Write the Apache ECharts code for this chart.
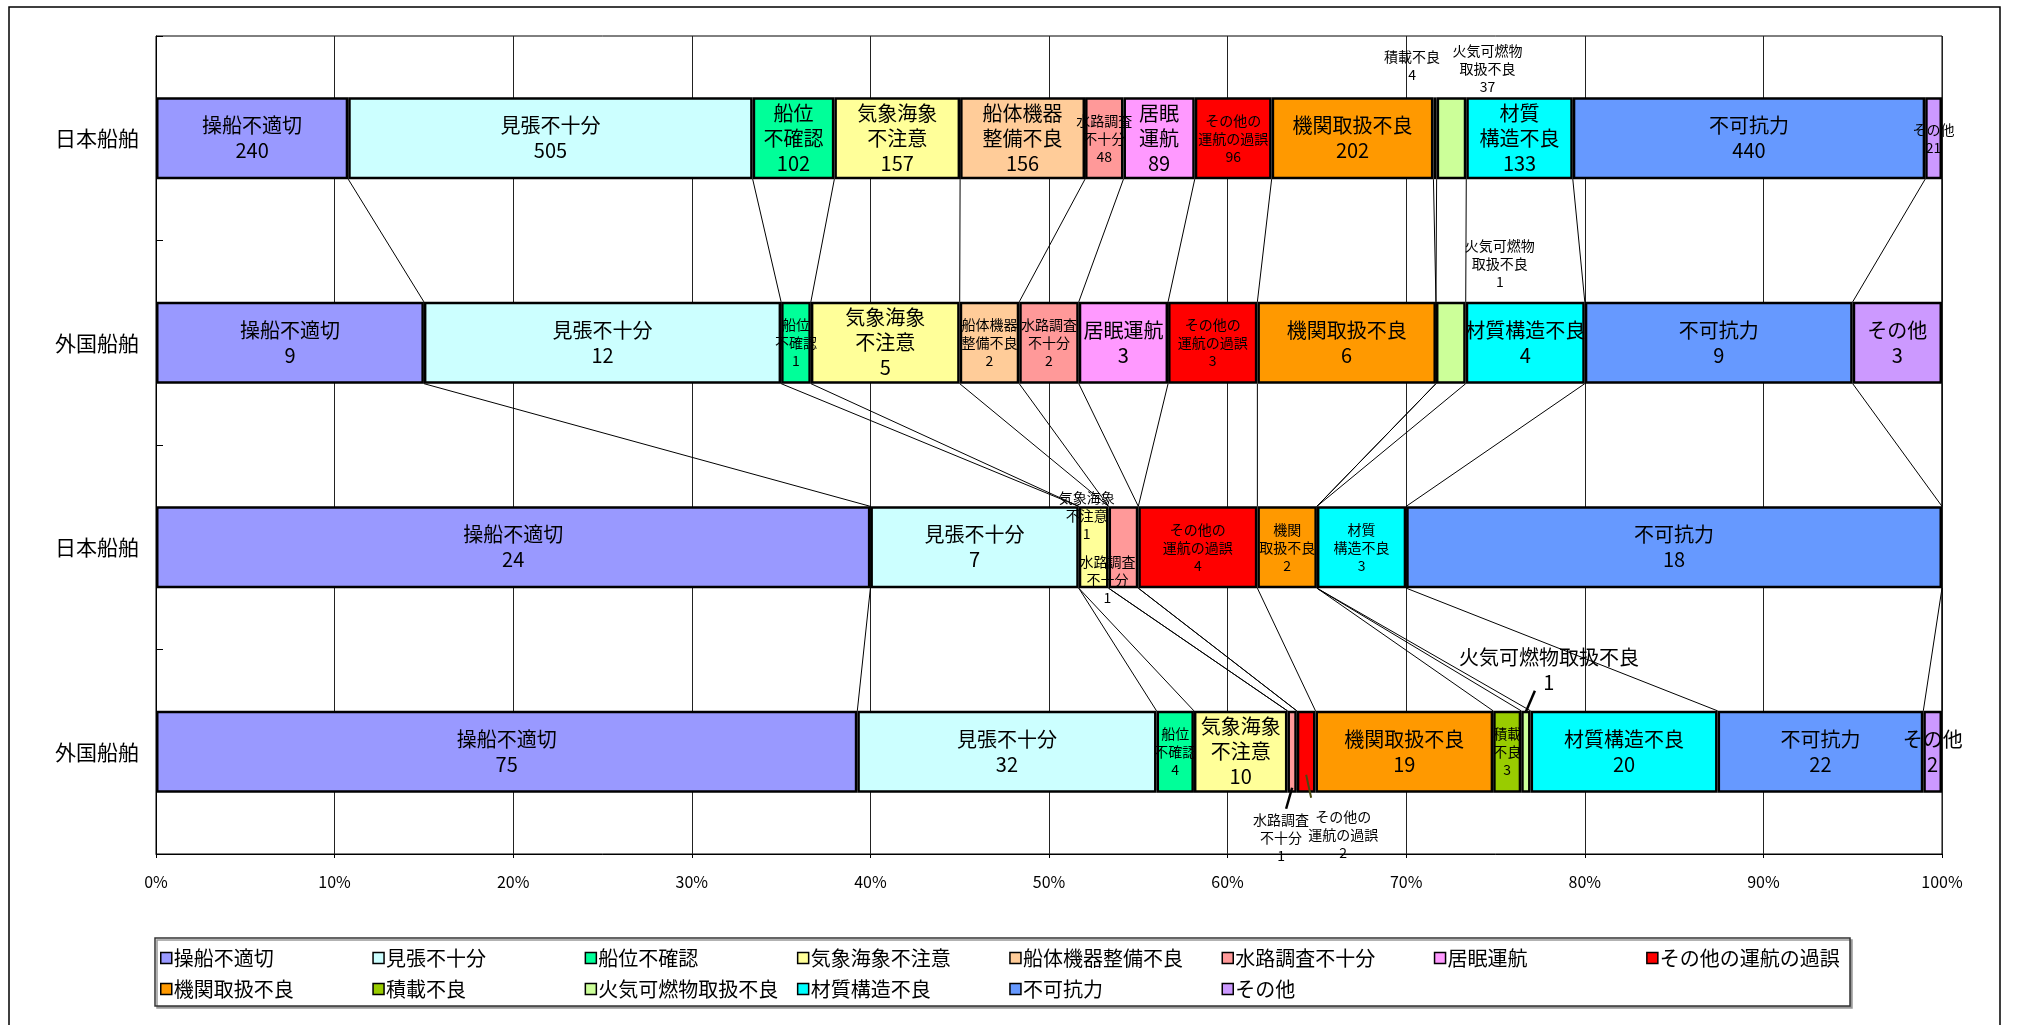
<!DOCTYPE html>
<html><head><meta charset="utf-8">
<script src="https://cdn.jsdelivr.net/npm/echarts@6/dist/echarts.min.js"></script>
<style>html,body{margin:0;padding:0;background:#fff}#c{width:2019px;height:1025px}</style>
</head><body><div id="c"></div>
<script>
// ---- data ----
const rowNames = ['日本船舶', '外国船舶', '日本船舶', '外国船舶'];
const causes = ['操船不適切','見張不十分','船位不確認','気象海象不注意','船体機器整備不良','水路調査不十分','居眠運航','その他の運航の過誤','機関取扱不良','積載不良','火気可燃物取扱不良','材質構造不良','不可抗力','その他'];
const rowA = [240, 505, 102, 157, 156, 48, 89, 96, 202, 4, 37, 133, 440, 21];
const rowB = [9, 12, 1, 5, 2, 2, 3, 3, 6, 0, 1, 4, 9, 3];
const rowC = [24, 7, 0, 1, 0, 1, 0, 4, 2, 0, 0, 3, 18, 0];
const rowD = [75, 32, 4, 10, 0, 1, 0, 2, 19, 3, 1, 20, 22, 2];
const tickLabels = ['0%','10%','20%','30%','40%','50%','60%','70%','80%','90%','100%'];

// ---- style ----
const colors = ['#9999FF','#CCFFFF','#00FF99','#FFFF99','#FFCC99','#FF9999','#FF99FF','#FF0000','#FF9900','#99CC00','#CCFF99','#00FFFF','#6699FF','#CC99FF'];
const FONT = "'Noto Sans CJK JP', 'Noto Sans', sans-serif";
const labelCfg = {
  '0-2':{t:'船位\n不確認'}, '0-3':{t:'気象海象\n不注意'}, '0-4':{t:'船体機器\n整備不良'},
  '0-5':{t:'水路調査\n不十分', fs:14}, '0-6':{t:'居眠\n運航'}, '0-7':{t:'その他の\n運航の過誤', fs:14},
  '0-9':{t:'積載不良', fs:14, o:[-23,-73]}, '0-10':{t:'火気可燃物\n取扱不良', fs:14, o:[36,-70]},
  '0-11':{t:'材質\n構造不良'}, '0-13':{fs:14},
  '1-2':{t:'船位\n不確認', fs:14}, '1-3':{t:'気象海象\n不注意'}, '1-4':{t:'船体機器\n整備不良', fs:14},
  '1-5':{t:'水路調査\n不十分', fs:14}, '1-7':{t:'その他の\n運航の過誤', fs:14},
  '1-10':{t:'火気可燃物\n取扱不良', fs:14, o:[49,-79]},
  '2-3':{t:'気象海象\n不注意', fs:14, o:[-7,-32]}, '2-5':{t:'水路調査\n不十分', fs:14, o:[-16,32]},
  '2-7':{t:'その他の\n運航の過誤', fs:14}, '2-8':{t:'機関\n取扱不良', fs:14}, '2-11':{t:'材質\n構造不良', fs:14},
  '3-2':{t:'船位\n不確認', fs:14}, '3-3':{t:'気象海象\n不注意'},
  '3-5':{t:'水路調査\n不十分', fs:14, o:[-11,86]}, '3-7':{t:'その他の\n運航の過誤', fs:14, o:[37,83]},
  '3-9':{t:'積載\n不良', fs:14}, '3-10':{fs:20, o:[23,-82]}
};
// leader lines: offsets relative to segment centre (pixels)
const leaderCfg = [
  {r:3, s:5, dy0:36, dx1:-6, dy1:57, w:2.5, c:'#000'},
  {r:3, s:7, dy0:23, dx1:5, dy1:46, w:2, c:'#4a4a10'},
  {r:3, s:10, dy0:-40, dx1:9, dy1:-61, w:2.5, c:'#000'}
];
const BAR_RATIO = 0.4;

// ---- derived ----
const rowData = [rowA, rowB, rowC, rowD];
const totals = rowData.map(r => r.reduce((a, b) => a + b, 0));
const cum = rowData.map((r, ri) => { let acc = 0; return r.map(v => { acc += v; return acc / totals[ri] * 100; }); });

const barSeries = causes.map((name, s) => ({
  name, type: 'bar', stack: 'total', barWidth: (BAR_RATIO * 100) + '%', z: 2,
  itemStyle: { color: colors[s], borderColor: '#000', borderWidth: 2.5 },
  emphasis: { disabled: true },
  data: rowData.map((r, ri) => {
    const v = r[s];
    if (!v) return { value: null };
    const c = labelCfg[ri + '-' + s] || {};
    const fs = c.fs || 20;
    return {
      value: v / totals[ri] * 100,
      label: { show: true, position: 'inside', formatter: (c.t || name) + '\n' + v,
        fontSize: fs, lineHeight: fs >= 20 ? 25 : 18, offset: c.o || [0, 0],
        color: '#000', fontFamily: FONT }
    };
  })
}));

const linkData = [];
for (let ri = 0; ri < rowData.length - 1; ri++)
  for (let s = 0; s < causes.length; s++)
    linkData.push([cum[ri][s], ri, cum[ri + 1][s], ri + 1]);

const linkSeries = {
  type: 'custom', name: 'links', z: 1, silent: true, clip: false,
  encode: { x: [0, 2], y: [1, 3] },
  data: linkData,
  renderItem: (params, api) => {
    const p1 = api.coord([api.value(0), api.value(1)]);
    const p2 = api.coord([api.value(2), api.value(3)]);
    const h = api.size([0, 1])[1] * BAR_RATIO / 2;
    return { type: 'line', shape: { x1: p1[0], y1: p1[1] + h, x2: p2[0], y2: p2[1] - h },
      style: { stroke: '#000', lineWidth: 1 } };
  }
};

const leaderSeries = {
  type: 'custom', name: 'leaders', z: 5, silent: true, clip: false,
  encode: { x: 0, y: 1 },
  data: leaderCfg.map((l, i) => [cum[l.r][l.s] - rowData[l.r][l.s] / totals[l.r] * 50, l.r, i]),
  renderItem: (params, api) => {
    const l = leaderCfg[api.value(2)];
    const p = api.coord([api.value(0), api.value(1)]);
    return { type: 'line', shape: { x1: p[0], y1: p[1] + l.dy0, x2: p[0] + l.dx1, y2: p[1] + l.dy1 },
      style: { stroke: l.c, lineWidth: l.w } };
  }
};

const legends = causes.map((n, i) => ({
  data: [n], left: 160 + (i % 8) * 212.3, top: 948 + Math.floor(i / 8) * 31,
  icon: 'rect', itemWidth: 11, itemHeight: 11, padding: 0, selectedMode: false,
  itemStyle: { borderColor: '#000', borderWidth: 1.5 },
  textStyle: { fontSize: 20, color: '#000', fontFamily: FONT, padding: [0, 0, 0, -3] }
}));

const chart = echarts.init(document.getElementById('c'));
chart.setOption({
  animation: false,
  backgroundColor: '#fff',
  textStyle: { fontFamily: FONT },
  grid: { left: 156, right: 77, top: 36, bottom: 171, show: true, backgroundColor: '#fff', borderColor: '#000', borderWidth: 1 },
  xAxis: {
    type: 'value', min: 0, max: 100, interval: 10,
    axisLine: { show: true, lineStyle: { color: '#000', width: 1 } },
    axisTick: { show: true, length: 4, lineStyle: { color: '#000' } },
    splitLine: { show: true, lineStyle: { color: '#222', width: 1 } },
    axisLabel: { formatter: (v) => tickLabels[Math.round(v / 10)], fontSize: 16, color: '#000', margin: 20, fontFamily: FONT }
  },
  yAxis: {
    type: 'category', inverse: true, data: rowNames,
    axisLine: { show: true, lineStyle: { color: '#000', width: 1 } },
    axisTick: { show: true, inside: true, length: 7, lineStyle: { color: '#000' } },
    axisLabel: { fontSize: 21, color: '#000', margin: 17, fontFamily: FONT }
  },
  legend: legends,
  graphic: [
    { type: 'rect', z: -10, silent: true, shape: { x: 9, y: 7, width: 1991, height: 1030 }, style: { fill: null, stroke: '#000', lineWidth: 1.5 } },
    { type: 'rect', z: -10, silent: true, shape: { x: 155, y: 938, width: 1695, height: 68 },
      style: { fill: '#fff', stroke: '#333', lineWidth: 1.5, shadowColor: '#999', shadowOffsetX: 2, shadowOffsetY: 2, shadowBlur: 0 } }
  ],
  series: [linkSeries, ...barSeries, leaderSeries]
});
</script>
</body></html>
